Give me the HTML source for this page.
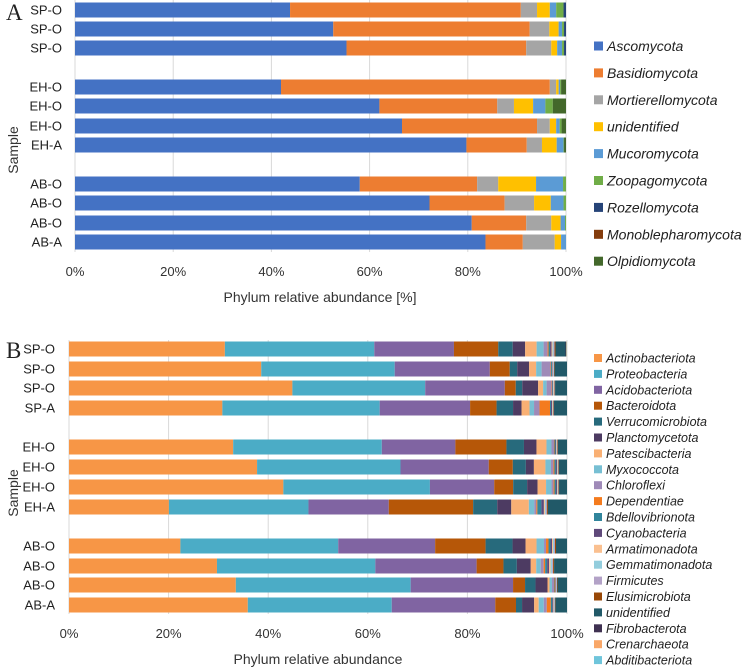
<!DOCTYPE html>
<html><head><meta charset="utf-8">
<style>
html,body{margin:0;padding:0;background:#fff;}
svg{display:block;font-family:"Liberation Sans",sans-serif;}
</style></head>
<body>
<svg id="c" width="747" height="669" viewBox="0 0 747 669">
<text x="6" y="20" font-family="Liberation Serif,serif" font-size="23" fill="#222">A</text>
<text x="6" y="358" font-family="Liberation Serif,serif" font-size="23" fill="#222">B</text>
<text transform="translate(18,150) rotate(-90)" text-anchor="middle" font-size="14" fill="#333">Sample</text>
<text transform="translate(18,493) rotate(-90)" text-anchor="middle" font-size="14" fill="#333">Sample</text>
<text x="320" y="302" text-anchor="middle" font-size="14" fill="#333">Phylum relative abundance [%]</text>
<text x="318" y="664" text-anchor="middle" font-size="14" fill="#333">Phylum relative abundance</text>
</svg>
<script>
// ---- Chart A data ----
const catsA = ["SP-O","SP-O","SP-O","EH-O","EH-O","EH-O","EH-A","AB-O","AB-O","AB-O","AB-A"];
const seriesA = ["Ascomycota","Basidiomycota","Mortierellomycota","unidentified","Mucoromycota","Zoopagomycota","Rozellomycota","Monoblepharomycota","Olpidiomycota"];
const ascomycota =        [43.8,52.6,55.3,42.0,62.0,66.6,79.8,58.0,72.2,80.8,83.6];
const basidiomycota =     [47.0,40.0,36.6,54.8,24.0,27.5,12.3,23.9,15.3,11.1,7.6];
const mortierellomycota = [3.3,4.0,5.1,1.3,3.4,2.6,3.1,4.3,6.0,5.1,6.5];
const unidentifiedA =     [2.6,1.9,1.2,0.5,3.9,1.3,3.0,7.7,3.4,1.9,1.3];
const mucoromycota =      [1.3,0.7,1.0,0.3,2.5,0.7,1.4,5.5,2.6,0.9,1.0];
const zoopagomycota =     [1.5,0.4,0.4,0.2,1.5,0.4,0.1,0.6,0.5,0.2,0.0];
const rozellomycota =     [0.5,0.4,0.4,0.0,0.0,0.0,0.0,0.0,0.0,0.0,0.0];
const monoblepharomycota= [0.0,0.0,0.0,0.0,0.0,0.0,0.0,0.0,0.0,0.0,0.0];
const olpidiomycota =     [0.0,0.0,0.0,1.0,2.7,0.9,0.4,0.0,0.0,0.0,0.0];
const valuesA = [ascomycota,basidiomycota,mortierellomycota,unidentifiedA,mucoromycota,zoopagomycota,rozellomycota,monoblepharomycota,olpidiomycota];
const colorsA = ["#4472C4","#ED7D31","#A5A5A5","#FFC000","#5B9BD5","#70AD47","#264478","#843C0C","#43682B"];

// ---- Chart B data ----
const catsB = ["SP-O","SP-O","SP-O","SP-A","EH-O","EH-O","EH-O","EH-A","AB-O","AB-O","AB-O","AB-A"];
const seriesB = ["Actinobacteriota","Proteobacteria","Acidobacteriota","Bacteroidota","Verrucomicrobiota","Planctomycetota","Patescibacteria","Myxococcota","Chloroflexi","Dependentiae","Bdellovibrionota","Cyanobacteria","Armatimonadota","Gemmatimonadota","Firmicutes","Elusimicrobiota","unidentified","Fibrobacterota","Crenarchaeota","Abditibacteriota"];
const actino =   [31.3,38.6,44.9,30.7,32.8,37.5,43.0,19.9,22.3,29.8,33.4,35.4];
const proteo =   [30.0,26.8,26.7,31.5,29.7,28.6,29.4,27.8,31.6,31.9,35.0,28.5];
const acido =    [16.0,19.1,16.0,18.1,14.7,17.6,12.9,16.0,19.4,20.4,20.5,20.5];
const bactero =  [8.9,4.0,2.2,5.3,10.2,4.8,3.8,16.8,10.1,5.4,2.4,4.1];
const verruco =  [2.9,1.5,1.3,3.3,3.5,2.6,2.8,4.8,5.4,2.7,2.1,1.2];
const plancto =  [2.5,2.4,3.2,1.7,2.5,1.6,2.1,2.8,2.6,2.8,2.4,2.4];
const patesc =   [2.3,1.4,1.0,1.6,2.0,2.3,1.7,3.5,2.2,1.1,0.4,0.9];
const myxo =     [1.4,1.1,0.7,0.9,1.0,1.1,1.1,1.1,1.5,0.9,0.5,1.0];
const chloro =   [0.8,1.8,1.0,1.1,0.5,0.5,0.4,0.4,0.4,0.6,0.4,0.6];
const depend =   [0.2,0.1,0.1,2.1,0.1,0.2,0.2,0.2,0.5,0.3,0.1,0.8];
const bdello =   [0.3,0.2,0.1,0.2,0.2,0.3,0.3,0.8,0.4,0.4,0.1,0.3];
const cyano =    [0.3,0.1,0.1,0.2,0.1,0.2,0.2,0.5,0.3,0.4,0.1,0.2];
const armati =   [0.2,0.1,0.1,0.1,0.1,0.1,0.1,0.2,0.2,0.3,0.1,0.1];
const gemmati =  [0.2,0.1,0.1,0.1,0.1,0.1,0.1,0.2,0.2,0.3,0.1,0.1];
const firmic =   [0.2,0.1,0.1,0.1,0.1,0.1,0.1,0.2,0.2,0.2,0.1,0.1];
const elusimi =  [0.2,0.1,0.1,0.1,0.1,0.1,0.1,0.2,0.2,0.2,0.1,0.1];
const unidB =    [2.0,2.5,2.4,2.6,1.8,1.6,1.6,3.8,2.2,2.6,1.9,2.3];
const fibro =    [0.1,0.0,0.0,0.0,0.0,0.0,0.0,0.0,0.0,0.0,0.0,0.0];
const crenarch = [0.1,0.0,0.0,0.0,0.0,0.0,0.0,0.0,0.0,0.0,0.0,0.0];
const abditi =   [0.1,0.0,0.0,0.0,0.0,0.0,0.0,0.0,0.0,0.0,0.0,0.0];
const valuesB = [actino,proteo,acido,bactero,verruco,plancto,patesc,myxo,chloro,depend,bdello,cyano,armati,gemmati,firmic,elusimi,unidB,fibro,crenarch,abditi];
const colorsB = ["#F79646","#4BACC6","#8064A2","#B65708","#276A7C","#4D3B62","#F9B074","#77BFD3","#9F8AB8","#F47B1E","#31859C","#5F497A","#FAC090","#93CDDD","#B3A2C7","#984807","#215968","#3F3151","#F9A768","#6FC5DB"];
const ticks = ["0%","20%","40%","60%","80%","100%"];

const NS = "http://www.w3.org/2000/svg";
const svg = document.getElementById("c");
function mk(tag, attrs, parent){
  const e = document.createElementNS(NS, tag);
  for (const k in attrs) e.setAttribute(k, attrs[k]);
  (parent||svg).appendChild(e);
  return e;
}

function drawChart(p){
  const xs = v => p.x0 + (p.x1 - p.x0) * v / 100;
  const g = mk("g", {});
  
  
  // gridlines + ticks
  ticks.forEach((t, i) => {
    const x = xs(i * 20);
    const ln = mk("line", {x1:x, x2:x, y1:p.gridTop, y2:p.gridBot, stroke:"#d9d9d9", "stroke-width":1}, g);
    
    
    const tx = mk("text", {x:x, y:p.tickY, "text-anchor":"middle", "font-size":13, fill:"#333"}, g);
    tx.textContent = t;
    
    
  });
  // bars
  p.cats.forEach((c, r) => {
    const cy = p.rowY[r];
    let tot = 0;
    p.values.forEach(arr => tot += arr[r]);
    let acc = 0;
    p.values.forEach((arr, s) => {
      const v = arr[r] / tot * 100;
      if (v <= 0) return;
      const xa = xs(acc), xb = xs(acc + v);
      const rc = mk("rect", {x:xa, y:cy - p.bh/2, width:Math.max(0, xb - xa), height:p.bh, fill:p.colors[s]}, g);
      
      
      acc += v;
    });
    const lb = mk("text", {x:p.labelX, y:cy + 4.5, "text-anchor":"end", "font-size":13, fill:"#222"}, g);
    lb.textContent = c;
    
    
  });
  // legend
  p.series.forEach((s, i) => {
    const y = p.legY0 + i * p.legStep;
    const m = mk("rect", {x:p.legX, y:y - p.mk/2, width:p.mk, height:p.mk, fill:p.colors[i]}, g);
    
    
    const t = mk("text", {x:p.legX + p.mk + 4, y:y + p.fs*0.36, "font-size":p.fs, "font-style":"italic", fill:"#222"}, g);
    t.textContent = s;
    
    
  });
}

drawChart({
  name:"chart-a", cats:catsA, series:seriesA, values:valuesA, colors:colorsA,
  x0:75, x1:566, bh:15,
  rowY:[10,29,48,87,106,126,145,184,203,223,242],
  gridTop:0, gridBot:252, tickY:276, labelX:62,
  legX:594, legY0:46, legStep:26.9, mk:9, fs:14
});
drawChart({
  name:"chart-b", cats:catsB, series:seriesB, values:valuesB, colors:colorsB,
  x0:69, x1:567, bh:15,
  rowY:[349,369,388,408,447,467,487,507,546,566,585,605],
  gridTop:340, gridBot:614, tickY:638, labelX:55,
  legX:594, legY0:358, legStep:15.9, mk:8, fs:12.5
});
</script>
</body></html>
